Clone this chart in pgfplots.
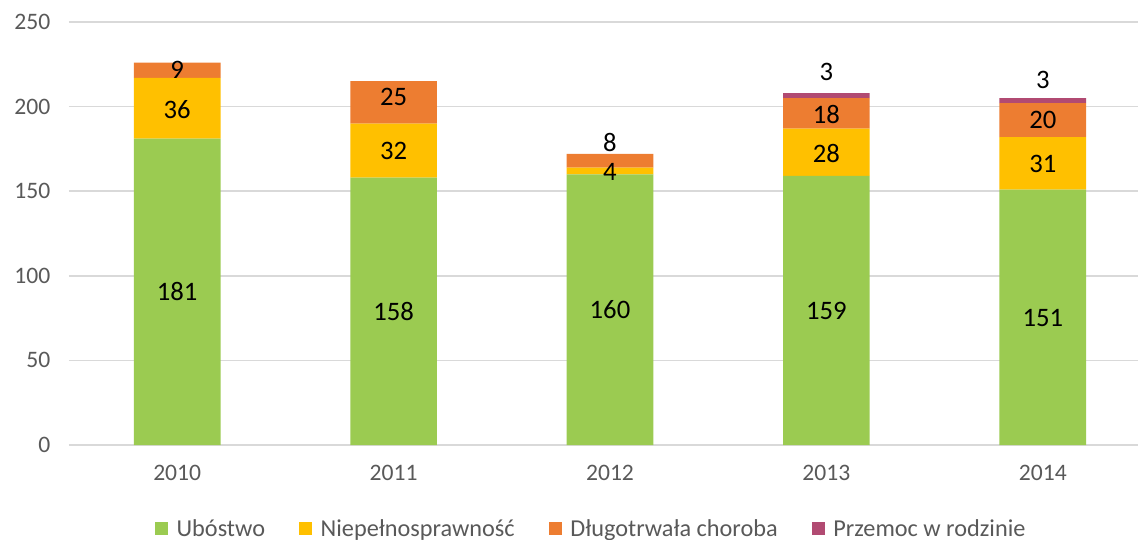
\documentclass[border=0pt]{standalone}
\usepackage{pgfplots}
\pgfplotsset{compat=1.18}
\usepackage{fontspec}
\setmainfont{Carlito}
\definecolor{cGreen}{HTML}{9BCB51}
\definecolor{cYellow}{HTML}{FFC000}
\definecolor{cOrange}{HTML}{ED7D31}
\definecolor{cPurple}{HTML}{B14A72}
\definecolor{cGrid}{HTML}{D9D9D9}
\definecolor{cTick}{HTML}{595959}

\begin{document}
\begin{tikzpicture}
\begin{axis}[
  at={(0,0)}, anchor=south west,
  scale only axis,
  width=801.75pt, height=317.25pt,
  ybar stacked, bar width=65pt,
  xmin=-0.5, xmax=4.44, ymin=0, ymax=250,
  xtick={0,...,4}, xticklabels={2010,2011,2012,2013,2014},
  ytick={0,50,...,250},
  axis line style={draw=none},
  major tick length=0pt,
  ymajorgrids, grid style={cGrid, line width=1.1pt},
  tick label style={font=\fontsize{17.7}{20}\selectfont, text=cTick},
  /pgf/number format/assume math mode=true,
  yticklabel style={xshift=-10.5pt},
  xticklabel style={yshift=-11.6pt},
  legend columns=4,
  legend style={at={(0.4888,-0.198)}, anchor=center, draw=none,
    font=\fontsize{18.2}{21}\selectfont, text=cTick,
    /tikz/every even column/.append style={column sep=23.5pt}},
  legend image code/.code={\fill[#1,draw=none] (0pt,-4.9pt) rectangle (9.75pt,4.9pt); \path (14.25pt,0pt);},
]
\addplot[fill=cGreen, draw=none] coordinates {(0,181) (1,158) (2,160) (3,159) (4,151)};
\addplot[fill=cYellow, draw=none] coordinates {(0,36) (1,32) (2,4) (3,28) (4,31)};
\addplot[fill=cOrange, draw=none] coordinates {(0,9) (1,25) (2,8) (3,18) (4,20)};
\addplot[fill=cPurple, draw=none] coordinates {(0,0) (1,0) (2,0) (3,3) (4,3)};
\legend{Ubóstwo, Niepełnosprawność, Długotrwała choroba, Przemoc w rodzinie}

% data label positions (drawn after the axis so they sit on top of the bars)
\coordinate (l1) at (axis cs:0,90.5);
\coordinate (l2) at (axis cs:0,198.5);
\coordinate (l3) at (axis cs:0,221.5);
\coordinate (l4) at (axis cs:1,79);
\coordinate (l5) at (axis cs:1,174);
\coordinate (l6) at (axis cs:1,206);
\coordinate (l7) at (axis cs:2,80);
\coordinate (l8) at (axis cs:2,161.5);
\coordinate (l9) at (axis cs:2,178.5);
\coordinate (l10) at (axis cs:3,79.5);
\coordinate (l11) at (axis cs:3,172.5);
\coordinate (l12) at (axis cs:3,195.5);
\coordinate (l13) at (axis cs:3,220.5);
\coordinate (l14) at (axis cs:4,75);
\coordinate (l15) at (axis cs:4,166);
\coordinate (l16) at (axis cs:4,192);
\coordinate (l17) at (axis cs:4,215.5);
\end{axis}
\tikzset{lab/.style={font=\fontsize{20}{24}\selectfont, inner sep=0pt}}
\foreach \c/\t in {l1/181,l2/36,l3/9,l4/158,l5/32,l6/25,l7/160,l8/4,l9/8,
                   l10/159,l11/28,l12/18,l13/3,l14/151,l15/31,l16/20,l17/3}
  \node[lab] at (\c) {\t};
\pgfresetboundingbox
\path[use as bounding box] (-51.75pt,-70.5pt) rectangle (801.75pt,333.75pt);
\end{tikzpicture}
\end{document}
